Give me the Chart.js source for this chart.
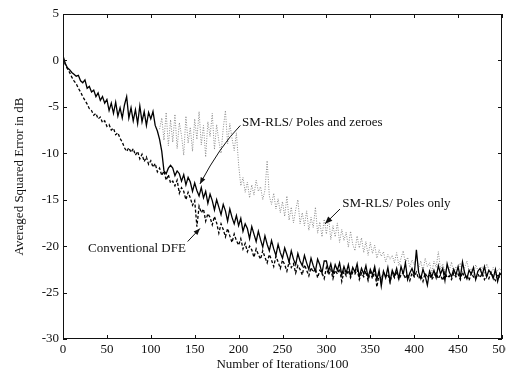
<!DOCTYPE html>
<html>
<head>
<meta charset="utf-8">
<script src="https://cdn.jsdelivr.net/npm/chart.js@4.4.1/dist/chart.umd.min.js"></script>
<style>
  html, body { margin: 0; padding: 0; background: #fff; overflow: hidden; }
  #wrap { width: 530px; height: 379px; }
</style>
</head>
<body>
<div id="wrap"><canvas id="errChart"></canvas></div>
<script>
// samples every 2.5 units of "Number of Iterations/100"
const STEP = 2.5;
const POLES_ONLY_START = 110;

const xTicks = [0, 50, 100, 150, 200, 250, 300, 350, 400, 450, 500];
const yTicks = [5, 0, -5, -10, -15, -20, -25, -30];

// SM-RLS / Poles and zeroes (solid)
const polesZeroes = [
  0.5, -0.3, -0.8, -1.0, -1.3, -1.5, -1.7, -1.6, -2.2, -2.4,
  -2.1, -3.0, -2.8, -3.4, -3.2, -3.9, -3.5, -4.3, -3.9, -4.6,
  -4.2, -5.4, -4.6, -5.7, -4.5, -6.0, -5.1, -6.2, -4.8, -3.9,
  -6.2, -5.1, -6.5, -5.3, -6.8, -4.9, -6.6, -5.5, -7.0, -5.6,
  -6.3, -5.5, -7.0, -7.6, -8.5, -9.8, -11.9, -12.2, -11.6, -11.3,
  -11.6, -12.4, -11.9, -12.2, -13.0, -12.3, -13.4, -12.6, -13.1, -14.1,
  -13.2, -14.0, -14.6, -13.7, -14.8, -14.1, -15.4, -14.4, -15.1, -16.1,
  -15.0, -15.8, -16.6, -15.5, -16.2, -17.3, -16.0, -16.9, -17.6, -16.7,
  -17.8, -17.0, -18.4, -17.6, -18.1, -19.2, -17.9, -18.7, -19.5, -18.4,
  -19.3, -20.1, -18.9, -19.8, -20.5, -19.4, -20.3, -21.0, -19.8, -20.7,
  -21.3, -20.2, -20.9, -21.7, -20.5, -21.4, -22.0, -20.8, -21.6, -22.1,
  -21.0, -21.8, -22.5, -21.3, -22.1, -22.7, -21.4, -22.0, -22.9, -21.6,
  -21.6, -22.7, -21.9, -23.0, -22.0, -22.6, -21.8, -23.1, -22.2, -22.9,
  -22.0, -23.2, -22.3, -22.8, -21.9, -23.3, -22.4, -23.0, -22.1, -23.4,
  -22.5, -23.1, -22.2, -23.6, -22.6, -24.3, -22.7, -23.4, -22.3, -23.8,
  -22.6, -23.2, -22.4, -23.5, -22.2, -23.0, -21.8, -23.6, -22.9, -22.4,
  -23.1, -20.4, -22.8, -23.5, -22.5, -23.2, -24.2, -22.7, -23.3, -22.6,
  -23.4, -22.1, -23.0, -22.4, -23.7, -21.9, -22.8, -23.3, -22.5, -23.1,
  -22.2, -23.4, -21.7, -22.9, -23.5, -22.6, -23.0, -22.3, -23.6, -22.7,
  -22.4, -23.1, -22.2, -23.3, -22.6, -22.9, -23.5, -22.5, -23.8, -22.9,
  -23.2
];

// Conventional DFE (dashed)
const conventionalDFE = [
  0.3, -0.4, -0.9, -1.3, -1.8, -2.2, -2.5, -3.0, -3.4, -3.9,
  -4.3, -4.7, -5.2, -5.4, -5.9, -5.7, -6.3, -6.1, -6.7, -6.5,
  -7.1, -6.9, -7.5, -7.3, -8.0, -7.8, -8.4, -8.8, -9.4, -9.8,
  -9.4, -9.9, -9.5, -10.2, -9.8, -10.6, -10.1, -10.9, -10.4, -11.2,
  -10.8, -11.5, -11.1, -12.0, -11.6, -12.4, -11.9, -12.9, -12.3, -13.2,
  -13.0, -13.5, -12.9, -14.3, -13.7, -14.1, -15.0, -14.2, -14.8, -15.6,
  -15.1, -17.9, -15.7, -16.4, -16.0, -17.3, -16.5, -16.9, -17.7, -16.8,
  -17.5, -18.6, -17.6, -18.2, -19.0, -18.1, -18.9, -19.6, -18.7, -19.4,
  -19.9, -19.2, -20.3, -19.7, -20.6, -20.0, -20.4, -21.2, -20.3, -20.9,
  -21.4, -20.5, -21.2, -21.8, -20.9, -21.5, -22.2, -21.1, -21.7, -22.4,
  -21.5, -22.0, -22.7, -21.7, -22.3, -21.9, -22.9, -22.1, -22.5, -23.1,
  -22.0, -22.6, -23.2, -22.3, -22.8, -22.4, -23.4, -22.6, -22.9, -23.5,
  -22.3, -23.1, -22.5, -23.5, -22.6, -23.0, -22.4, -23.8, -22.7, -23.2,
  -22.6, -23.4, -22.8, -23.0, -22.5, -23.6, -22.9, -23.3, -22.7, -23.7,
  -22.8, -23.5, -22.6, -24.4, -23.0, -23.6, -22.8, -23.3, -23.0, -23.9,
  -22.9, -23.4, -22.7, -23.6, -23.1, -22.8, -23.5, -23.0, -23.7, -22.9,
  -23.3, -22.8, -23.5, -23.1, -23.8, -22.9, -23.4, -23.0, -23.6, -23.2,
  -22.9, -23.5, -23.1, -23.7, -22.8, -23.4, -23.2, -23.6, -22.9, -23.3,
  -23.0, -23.6, -22.8, -23.4, -23.1, -23.7, -22.9, -23.3, -23.5, -23.0,
  -23.4, -22.9, -23.6, -23.1, -23.5, -22.8, -23.3, -23.7, -23.0, -23.4,
  -23.2
];

// SM-RLS / Poles only (gray dotted), visible from x = 110 on
const polesOnly = [
  -7.4, -6.2, -8.6, -5.6, -9.2, -6.4,
  -8.8, -5.8, -9.5, -6.7, -8.1, -10.2, -6.0, -8.9, -7.2, -9.8,
  -6.3, -8.5, -5.5, -9.1, -7.0, -10.4, -6.6, -8.2, -5.7, -9.6,
  -6.9, -8.7, -10.0, -7.3, -5.4, -9.0, -6.8, -8.4, -9.7, -7.8,
  -11.2, -13.5, -12.6, -14.2, -13.1, -14.8, -13.4, -14.5, -12.9, -14.1,
  -13.6, -15.0, -14.0, -10.8, -14.6, -15.5, -14.3, -16.0, -14.9, -16.4,
  -15.2, -16.8, -14.6, -17.2, -15.8, -17.5, -16.1, -15.0, -17.6, -16.4,
  -17.8, -16.2, -18.3, -16.9, -18.0, -15.8, -18.6, -17.4, -19.0, -17.1,
  -18.7, -16.9, -19.3, -17.8, -19.0, -17.5, -19.6, -18.2, -19.4, -18.5,
  -20.1, -18.4, -19.8, -20.5, -18.9, -20.2, -19.1, -20.7, -19.5, -21.0,
  -19.6, -20.8, -19.9, -21.3, -20.4, -21.1, -20.6, -21.7, -20.9, -21.4,
  -21.0, -21.8, -20.7, -22.1, -21.3, -20.5, -21.9, -21.2, -22.3, -21.5,
  -22.0, -21.1, -22.4, -21.6, -22.7, -21.3, -22.2, -21.8, -22.9, -21.6,
  -22.3, -20.6, -22.5, -21.9, -22.8, -22.1, -22.6, -21.7, -23.0, -22.2,
  -22.5, -21.8, -22.9, -22.3, -21.6, -22.7, -22.4, -23.1, -22.0, -22.6,
  -22.8, -22.2, -23.0, -21.9, -22.5, -22.9, -22.3, -23.1, -22.6, -22.4,
  -22.8
];

// text labels and arrows, in data units
const labels = [
  { text: 'SM-RLS/ Poles and zeroes', x: 204, y: -6.7 },
  { text: 'SM-RLS/ Poles only', x: 318, y: -15.4 },
  { text: 'Conventional DFE', x: 28.5, y: -20.3 },
];
const arrows = [
  { from: [202, -7.0], ctrl: [179, -9.2], to: [156, -13.3], head: 7 },
  { from: [142, -19.5], to: [156, -18.1], head: 7 },
  { from: [315.5, -16.0], to: [298.4, -17.6], head: 8 },
];

const FONT = "'Liberation Serif', 'DejaVu Serif', serif";
const INK = '#111';

function toPoints(values, start) {
  return values.map((y, i) => ({ x: start + i * STEP, y }));
}

const framePlugin = {
  id: 'frame',
  afterDatasetsDraw(chart) {
    const { ctx, chartArea: a, scales: { x, y } } = chart;
    ctx.save();
    ctx.strokeStyle = INK;
    ctx.lineWidth = 1;
    ctx.strokeRect(a.left + 0.5, a.top + 0.5, a.width - 1, a.height - 1);
    ctx.beginPath();
    xTicks.forEach((v) => {
      const px = Math.round(x.getPixelForValue(v)) + 0.5;
      ctx.moveTo(px, a.bottom); ctx.lineTo(px, a.bottom - 4);
      ctx.moveTo(px, a.top); ctx.lineTo(px, a.top + 4);
    });
    yTicks.forEach((v) => {
      const py = Math.round(y.getPixelForValue(v)) + 0.5;
      ctx.moveTo(a.left, py); ctx.lineTo(a.left + 4, py);
      ctx.moveTo(a.right, py); ctx.lineTo(a.right - 4, py);
    });
    ctx.stroke();

    // annotations
    ctx.fillStyle = INK;
    ctx.font = `13px ${FONT}`;
    ctx.textBaseline = 'middle';
    labels.forEach((l) => {
      ctx.fillText(l.text, x.getPixelForValue(l.x), y.getPixelForValue(l.y));
    });

    arrows.forEach((ar) => {
      const p = (pt) => [x.getPixelForValue(pt[0]), y.getPixelForValue(pt[1])];
      const [x0, y0] = p(ar.from);
      const [x1, y1] = p(ar.to);
      ctx.beginPath();
      ctx.moveTo(x0, y0);
      let dirFrom;
      if (ar.ctrl) {
        const [cx, cy] = p(ar.ctrl);
        ctx.quadraticCurveTo(cx, cy, x1, y1);
        dirFrom = [cx, cy];
      } else {
        ctx.lineTo(x1, y1);
        dirFrom = [x0, y0];
      }
      ctx.lineWidth = 1;
      ctx.stroke();
      const ang = Math.atan2(y1 - dirFrom[1], x1 - dirFrom[0]);
      const h = ar.head;
      ctx.beginPath();
      ctx.moveTo(x1, y1);
      ctx.lineTo(x1 - h * Math.cos(ang - 0.38), y1 - h * Math.sin(ang - 0.38));
      ctx.lineTo(x1 - h * Math.cos(ang + 0.38), y1 - h * Math.sin(ang + 0.38));
      ctx.closePath();
      ctx.fill();
    });
    ctx.restore();
  },
};

new Chart(document.getElementById('errChart'), {
  type: 'line',
  data: {
    datasets: [
      {
        label: 'SM-RLS/ Poles and zeroes',
        data: toPoints(polesZeroes, 0),
        borderColor: '#000',
        borderWidth: 1.3,
      },
      {
        label: 'Conventional DFE',
        data: toPoints(conventionalDFE, 0),
        borderColor: '#000',
        borderWidth: 1.3,
        borderDash: [3, 2],
      },
      {
        label: 'SM-RLS/ Poles only',
        data: toPoints(polesOnly, POLES_ONLY_START),
        borderColor: '#8a8a8a',
        borderWidth: 1,
        borderDash: [1, 1.5],
      },
    ],
  },
  options: {
    responsive: true,
    maintainAspectRatio: false,
    animation: false,
    layout: { padding: { top: 14, right: 28, left: 0, bottom: 0 } },
    elements: { point: { radius: 0 }, line: { tension: 0 } },
    plugins: { legend: { display: false }, tooltip: { enabled: false } },
    scales: {
      x: {
        type: 'linear',
        min: 0,
        max: 500,
        afterBuildTicks: (s) => { s.ticks = xTicks.map((value) => ({ value })); },
        afterFit: (s) => { s.height = 40; },
        grid: { display: false, drawTicks: false },
        border: { display: false },
        ticks: { color: INK, font: { family: FONT, size: 13 }, padding: 3, maxRotation: 0, autoSkip: false },
        title: { display: true, text: 'Number of Iterations/100', color: INK, font: { family: FONT, size: 13 }, padding: { top: 0, bottom: 7 } },
      },
      y: {
        min: -30,
        max: 5,
        afterBuildTicks: (s) => { s.ticks = yTicks.map((value) => ({ value })); },
        afterFit: (s) => { s.width = 63; },
        grid: { display: false, drawTicks: false },
        border: { display: false },
        ticks: { color: INK, font: { family: FONT, size: 13 }, padding: 4 },
        title: { display: true, text: 'Averaged Squared Error in dB', color: INK, font: { family: FONT, size: 13 }, padding: { top: 12, bottom: 0 } },
      },
    },
  },
  plugins: [framePlugin],
});
</script>
</body>
</html>
